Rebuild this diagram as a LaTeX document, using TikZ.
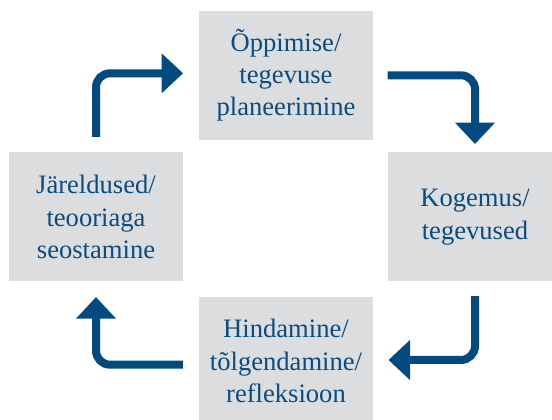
\documentclass[tikz,border=0pt]{standalone}
\usepackage{fontspec}
\setmainfont{Liberation Serif}
\usetikzlibrary{arrows.meta,calc}
\definecolor{boxgray}{HTML}{DCDDDF}
\definecolor{txtblue}{HTML}{0B4C7F}
\definecolor{arrblue}{HTML}{034B7F}
\tikzset{
  stagebox/.style={fill=boxgray, draw=none, minimum width=174pt, minimum height=129pt,
    inner sep=0pt, align=center, text=txtblue,
    font=\fontsize{26.6pt}{32.3pt}\selectfont},
  cyclearrow/.style={draw=arrblue, line width=8pt, rounded corners=14pt,
    -{Triangle[length=21.5pt, width=38.7pt]}}
}
\begin{document}
\begin{tikzpicture}[x=1pt,y=1pt]
\clip (0,0) rectangle (552,420);
\node[stagebox] (T) at (286,344.7) {Õppimise/\\tegevuse\\planeerimine};
\node[stagebox] (L) at (96,203) {Järeldused/\\teooriaga\\seostamine};
\node[stagebox] (R) at (475,203) {Kogemus/\\tegevused};
\node[stagebox] (B) at (286,58.8) {Hindamine/\\tõlgendamine/\\refleksioon};
\coordinate (a1s) at ($(L.north)+(0,15.5)$);
\coordinate (a1e) at ($(T.west)+(-15.7,2)$);
\coordinate (a2s) at ($(T.east)+(14.3,0)$);
\coordinate (a2e) at ($(R.north)+(0,8.2)$);
\coordinate (a3s) at ($(R.south)+(0,-14.5)$);
\coordinate (a3e) at ($(B.east)+(15.3,1.2)$);
\coordinate (a4s) at ($(B.west)+(-16,-3.5)$);
\coordinate (a4e) at ($(L.south)+(0,-15.4)$);
\draw[cyclearrow] (a1s) |- (a1e);
\draw[cyclearrow] (a2s) -| (a2e);
\draw[cyclearrow] (a3s) |- (a3e);
\draw[cyclearrow] (a4s) -| (a4e);
\end{tikzpicture}
\end{document}
